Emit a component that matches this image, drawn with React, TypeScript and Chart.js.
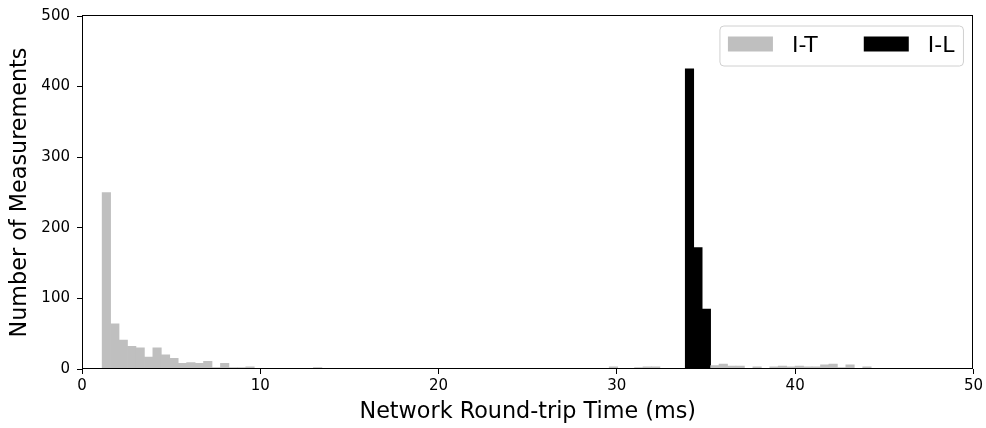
import React, { useEffect, useRef } from 'react';
import { Chart, registerables } from 'chart.js';

Chart.register(...registerables);

// Histogram bins (ms)
const BIN_START = 1.13;
const BIN_WIDTH = 0.474;

// I-T counts per bin (bins 0..99)
const itCounts = [
  250, 64, 41, 32, 30, 17, 30, 20, 15, 8,
  9, 8, 11, 2, 8, 2, 2, 3, 1, 0,
  0, 0, 0, 0, 0, 2, 0, 0, 0, 0,
  1, 0, 0, 0, 0, 0, 0, 0, 0, 0,
  0, 0, 0, 0, 0, 0, 0, 0, 0, 0,
  0, 0, 0, 1, 0, 0, 0, 1, 0, 0,
  3, 0, 1, 2, 3, 3, 1, 1, 1, 0,
  0, 0, 5, 7, 4, 4, 1, 3, 1, 3,
  4, 3, 4, 3, 3, 6, 7, 2, 6, 0,
  3, 0, 0, 0, 0, 0, 0, 1, 1, 0,
];

// I-L counts, starting at bin index 69
const ilStartBin = 69;
const ilCounts = [425, 172, 85];

const seriesLabels = ['I-T', 'I-L'];
const seriesColors = ['#bfbfbf', '#000000'];

const xLabel = 'Network Round-trip Time (ms)';
const yLabel = 'Number of Measurements';
const xMin = 0, xMax = 50, xStep = 10;
const yMin = 0, yMax = 500, yStep = 100;

const FONT = '"DejaVu Sans", sans-serif';

const binCenter = (k: number) => BIN_START + BIN_WIDTH * (k + 0.5);

const framePlugin = {
  id: 'frame',
  afterDatasetsDraw(chart: any) {
    const { ctx, chartArea: ca } = chart;
    ctx.save();
    ctx.strokeStyle = '#000';
    ctx.lineWidth = 1;
    ctx.strokeRect(Math.round(ca.left) + 0.5, Math.round(ca.top) - 0.5, Math.round(ca.right - ca.left) - 1, Math.round(ca.bottom - ca.top));
    ctx.restore();
  },
};

const legendPlugin = {
  id: 'customLegend',
  afterDraw(chart: any) {
    const { ctx, chartArea: ca } = chart;
    const fs = 22;
    ctx.save();
    ctx.font = `${fs}px ${FONT}`;
    const swW = 45, swH = 15, gap = 19, colSp = 46, padL = 8, padR = 9;
    const labels = chart.data.datasets.map((d: any) => d.label);
    const widths = labels.map((l: string) => ctx.measureText(l).width);
    let w = padL + padR;
    labels.forEach((_: string, i: number) => {
      w += swW + gap + widths[i];
      if (i < labels.length - 1) w += colSp;
    });
    const h = 40;
    const right = ca.right - 10;
    const left = right - w;
    const top = ca.top + 10;
    const r = 4;
    ctx.beginPath();
    ctx.moveTo(left + r, top);
    ctx.lineTo(left + w - r, top);
    ctx.arcTo(left + w, top, left + w, top + r, r);
    ctx.lineTo(left + w, top + h - r);
    ctx.arcTo(left + w, top + h, left + w - r, top + h, r);
    ctx.lineTo(left + r, top + h);
    ctx.arcTo(left, top + h, left, top + h - r, r);
    ctx.lineTo(left, top + r);
    ctx.arcTo(left, top, left + r, top, r);
    ctx.closePath();
    ctx.fillStyle = 'rgba(255,255,255,0.8)';
    ctx.fill();
    ctx.strokeStyle = '#d0d0d0';
    ctx.lineWidth = 1;
    ctx.stroke();
    let x = left + padL;
    const cy = top + h / 2;
    chart.data.datasets.forEach((d: any, i: number) => {
      ctx.fillStyle = d.backgroundColor;
      ctx.fillRect(x, cy - 9.5, swW, swH);
      x += swW + gap;
      ctx.fillStyle = '#000';
      ctx.textBaseline = 'middle';
      ctx.textAlign = 'left';
      ctx.fillText(d.label, x, cy);
      x += widths[i] + colSp;
    });
    ctx.restore();
  },
};

export default function App() {
  const ref = useRef<HTMLCanvasElement | null>(null);

  useEffect(() => {
    if (!ref.current) return;
    const itData = itCounts.map((c, k) => ({ x: binCenter(k), y: c }));
    const ilData = ilCounts.map((c, i) => ({ x: binCenter(ilStartBin + i), y: c }));
    const chart = new Chart(ref.current, {
      type: 'bar',
      data: {
        datasets: [
          {
            label: seriesLabels[0],
            data: itData,
            backgroundColor: seriesColors[0],
            borderWidth: 0,
            barPercentage: 1,
            categoryPercentage: 1,
            grouped: false,
          } as any,
          {
            label: seriesLabels[1],
            data: ilData,
            backgroundColor: seriesColors[1],
            borderWidth: 0,
            barPercentage: 1,
            categoryPercentage: 1,
            grouped: false,
          } as any,
        ],
      },
      options: {
        responsive: false,
        animation: false,
        devicePixelRatio: 1,
        layout: { padding: { left: 0, top: 14, right: 11, bottom: 0 } },
        plugins: {
          legend: { display: false },
          tooltip: { enabled: false },
        },
        scales: {
          x: {
            type: 'linear',
            min: xMin,
            max: xMax,
            offset: false,
            border: { display: false },
            grid: { offset: false, drawOnChartArea: false, drawTicks: true, tickLength: 5, color: '#000', tickColor: '#000' },
            ticks: { stepSize: xStep, color: '#000', padding: 3, font: { family: FONT, size: 15 }, maxRotation: 0 },
            title: { display: true, text: xLabel, color: '#000', font: { family: FONT, size: 22.3, lineHeight: 1 }, padding: { top: 0, bottom: 5 } },
            afterFit(scale: any) { scale.height = 59; },
          } as any,
          y: {
            type: 'linear',
            min: yMin,
            max: yMax,
            border: { display: false },
            grid: { drawOnChartArea: false, drawTicks: true, tickLength: 5, color: '#000', tickColor: '#000' },
            ticks: { stepSize: yStep, color: '#000', padding: 7, font: { family: FONT, size: 15 } },
            title: { display: true, text: yLabel, color: '#000', font: { family: FONT, size: 22.3, lineHeight: 1 }, padding: { top: 9, bottom: 0 } },
            afterFit(scale: any) { scale.width = 82; },
          } as any,
        },
      },
      plugins: [framePlugin, legendPlugin],
    });
    return () => chart.destroy();
  }, []);

  return (
    <div style={{ position: 'absolute', left: 0, top: 0, width: 986, height: 428, background: '#fff' }}>
      <canvas ref={ref} width={986} height={428} style={{ width: 986, height: 428, display: 'block' }} />
    </div>
  );
}
